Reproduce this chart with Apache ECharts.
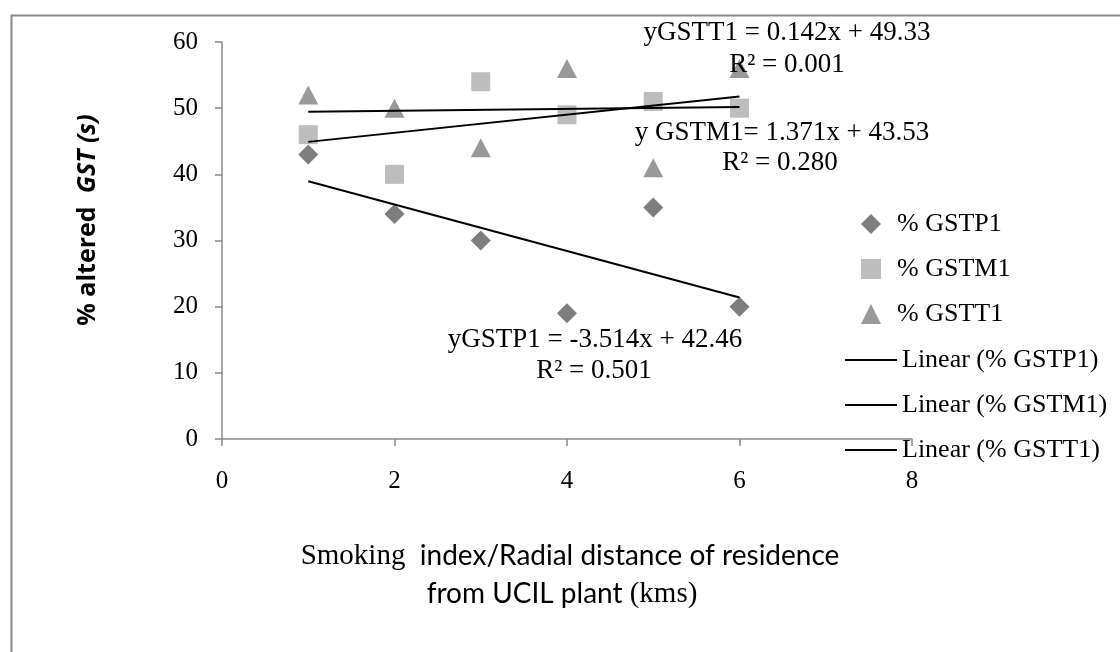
<!DOCTYPE html>
<html>
<head>
<meta charset="utf-8">
<script src="https://cdn.jsdelivr.net/npm/echarts@6/dist/echarts.min.js"></script>
<style>
html,body{margin:0;padding:0;background:#fff;}
#c{width:1120px;height:652px;}
</style>
</head>
<body>
<div id="c"></div>
<script>
const xValues = [1, 2, 3, 4, 5, 6];
const gstp1 = [43, 34, 30, 19, 35, 20];
const gstm1 = [46, 40, 54, 49, 51, 50];
const gstt1 = [52, 50, 44, 56, 41, 56];
const seriesNames = ['% GSTP1', '% GSTM1', '% GSTT1'];
const trendNames = ['Linear (% GSTP1)', 'Linear (% GSTM1)', 'Linear (% GSTT1)'];
const xTicks = [0, 2, 4, 6, 8];
const yTicks = [0, 10, 20, 30, 40, 50, 60];
const equations = [
  ['yGSTP1 = -3.514x + 42.46', 'R² = 0.501'],
  ['y GSTM1= 1.371x + 43.53', 'R² = 0.280'],
  ['yGSTT1 = 0.142x + 49.33', 'R² = 0.001']
];

function pairs(ys) { return xValues.map((x, i) => [x, ys[i]]); }
function fit(ys) {
  const n = xValues.length;
  const mx = xValues.reduce((a, b) => a + b, 0) / n;
  const my = ys.reduce((a, b) => a + b, 0) / n;
  let sxy = 0, sxx = 0;
  for (let i = 0; i < n; i++) { sxy += (xValues[i] - mx) * (ys[i] - my); sxx += (xValues[i] - mx) ** 2; }
  const b = sxy / sxx, a = my - b * mx;
  const x0 = Math.min(...xValues), x1 = Math.max(...xValues);
  return [[x0, a + b * x0], [x1, a + b * x1]];
}

const serif = 'Liberation Serif';
const chart = echarts.init(document.getElementById('c'), null, {renderer: 'canvas'});
const colors = ['#5e5e5e', '#adadad', '#7f7f7f'];
const axisCol = '#8a8a8a';
const eqFont = '27px "Liberation Serif"';

chart.setOption({
  animation: false,
  grid: {left: 222, right: 208, top: 42, bottom: 213, containLabel: false},
  xAxis: {
    type: 'value', min: xTicks[0], max: xTicks[xTicks.length - 1], interval: 2,
    splitLine: {show: false},
    axisLine: {show: true, onZero: false, lineStyle: {color: axisCol, width: 1.5}},
    axisTick: {show: true, inside: false, length: 7, lineStyle: {color: axisCol, width: 1.5}},
    axisLabel: {color: '#000', fontFamily: serif, fontSize: 25, margin: 30}
  },
  yAxis: {
    type: 'value', min: yTicks[0], max: yTicks[yTicks.length - 1], interval: 10,
    splitLine: {show: false},
    axisLine: {show: true, onZero: false, lineStyle: {color: axisCol, width: 1.5}},
    axisTick: {show: true, inside: false, length: 7, lineStyle: {color: axisCol, width: 1.5}},
    axisLabel: {color: '#000', fontFamily: serif, fontSize: 25, margin: 24}
  },
  legend: [
    {
      data: seriesNames, orient: 'vertical', left: 856, top: 206,
      itemWidth: 20, itemHeight: 20, itemGap: 19,
      textStyle: {fontFamily: serif, fontSize: 26, color: '#000', padding: [0, 0, 0, 11], lineHeight: 24}
    },
    {
      data: trendNames.map(n => ({name: n, icon: 'rect'})), orient: 'vertical', left: 840, top: 342,
      itemWidth: 52, itemHeight: 2, itemGap: 19,
      itemStyle: {color: '#000'},
      textStyle: {fontFamily: serif, fontSize: 26, color: '#000', lineHeight: 24}
    }
  ],
  series: [
    {name: seriesNames[0], type: 'scatter', data: pairs(gstp1), symbol: 'diamond', symbolSize: 20, itemStyle: {color: colors[0]}, z: 3},
    {name: seriesNames[1], type: 'scatter', data: pairs(gstm1), symbol: 'rect', symbolSize: 19, itemStyle: {color: colors[1]}, z: 3},
    {name: seriesNames[2], type: 'scatter', data: pairs(gstt1), symbol: 'triangle', symbolSize: [20, 19], itemStyle: {color: colors[2]}, z: 3},
    {name: trendNames[0], type: 'line', data: fit(gstp1), symbol: 'none', lineStyle: {color: '#000', width: 2}, itemStyle: {color: '#000'}, z: 4},
    {name: trendNames[1], type: 'line', data: fit(gstm1), symbol: 'none', lineStyle: {color: '#000', width: 2}, itemStyle: {color: '#000'}, z: 4},
    {name: trendNames[2], type: 'line', data: fit(gstt1), symbol: 'none', lineStyle: {color: '#000', width: 2}, itemStyle: {color: '#000'}, z: 4}
  ],
  graphic: [
    {type: 'rect', left: 9, top: 13, z: -10, silent: true,
     shape: {width: 1200, height: 700}, style: {fill: 'none', stroke: '#8a8a8a', lineWidth: 2}},
    {type: 'text', x: 595, y: 340, z: 10, style: {text: equations[0][0], font: eqFont, fill: '#000', align: 'center', verticalAlign: 'middle'}},
    {type: 'text', x: 594, y: 371, z: 10, style: {text: equations[0][1], font: eqFont, fill: '#000', align: 'center', verticalAlign: 'middle'}},
    {type: 'text', x: 782, y: 133, z: 10, style: {text: equations[1][0], font: eqFont, fill: '#000', align: 'center', verticalAlign: 'middle'}},
    {type: 'text', x: 780, y: 163, z: 10, style: {text: equations[1][1], font: eqFont, fill: '#000', align: 'center', verticalAlign: 'middle'}},
    {type: 'text', x: 787, y: 33, z: 10, style: {text: equations[2][0], font: eqFont, fill: '#000', align: 'center', verticalAlign: 'middle'}},
    {type: 'text', x: 787, y: 65, z: 10, style: {text: equations[2][1], font: eqFont, fill: '#000', align: 'center', verticalAlign: 'middle'}},
    {type: 'text', x: 88, y: 220, rotation: Math.PI / 2, z: 10,
     style: {text: '{a|% altered  }{b|GST (s)}', align: 'center', verticalAlign: 'middle',
       rich: {a: {fontFamily: 'Open Sans', fontWeight: 'bold', fontSize: 25, fill: '#000'},
              b: {fontFamily: 'Open Sans', fontWeight: 'bold', fontStyle: 'italic', fontSize: 25, fill: '#000'}}}},
    {type: 'text', x: 570, y: 556, z: 10,
     style: {text: '{s|Smoking }{c| index/Radial distance of residence}', align: 'center', verticalAlign: 'middle',
       rich: {s: {fontFamily: serif, fontSize: 29, fill: '#000'}, c: {fontFamily: 'Lato', fontSize: 28, fill: '#000'}}}},
    {type: 'text', x: 562, y: 594, z: 10,
     style: {text: '{c|from UCIL plant }{s|(kms)}', align: 'center', verticalAlign: 'middle',
       rich: {s: {fontFamily: serif, fontSize: 29, fill: '#000'}, c: {fontFamily: 'Lato', fontSize: 28, fill: '#000'}}}}
  ]
});
</script>
</body>
</html>
